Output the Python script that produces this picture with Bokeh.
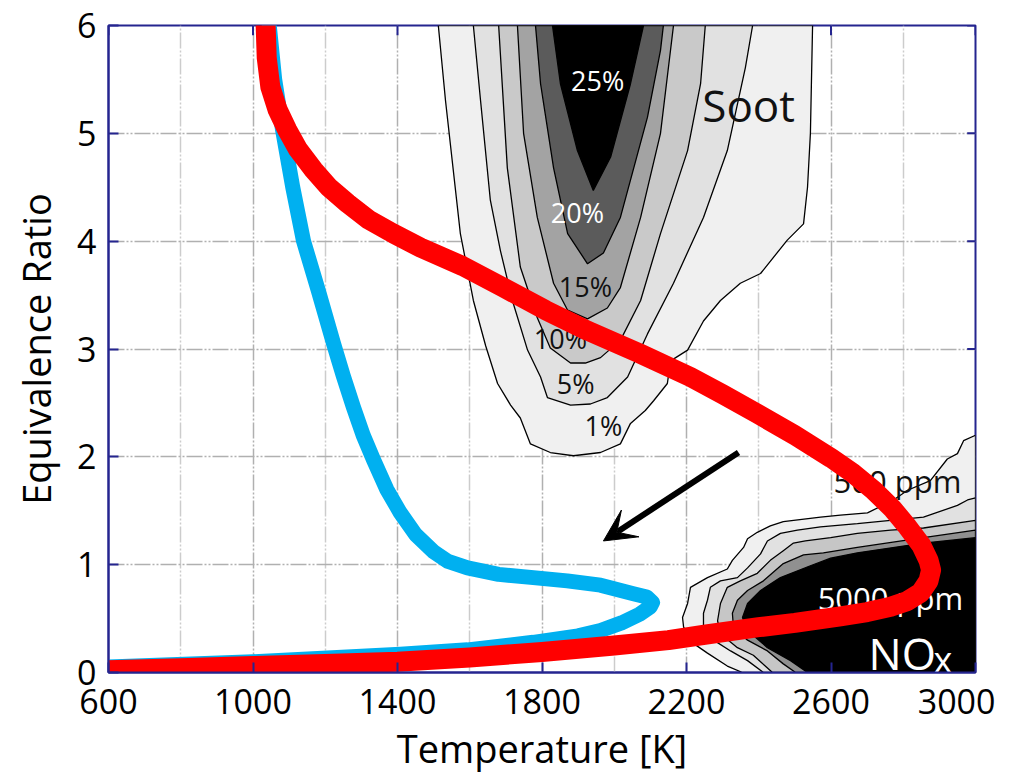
from bokeh.plotting import figure
from bokeh.models import FixedTicker, Range1d, Arrow, VeeHead
from bokeh.core.properties import value
from bokeh.embed import file_html
from bokeh.resources import INLINE

FONT = "Open Sans"
NAVY = "#25258f"

# ---------------- data ----------------
x_ticks = [600, 1000, 1400, 1800, 2200, 2600, 3000]
x_minor = [800, 1200, 1600, 2000, 2400, 2800]
y_ticks = [0, 1, 2, 3, 4, 5, 6]

# red curve (temperature K, equivalence ratio)
red_T = [600, 800, 1000, 1200, 1400, 1600, 1800, 2000, 2150, 2250, 2400, 2500, 2626, 2700,
         2765, 2810, 2848, 2870, 2877, 2870, 2850, 2812, 2770, 2718, 2660, 2600, 2500, 2396,
         2300, 2211, 2070, 1926, 1810, 1693, 1580, 1464, 1389, 1320, 1262, 1210, 1168, 1125,
         1095, 1068, 1048, 1038, 1035]
red_phi = [0.02, 0.04, 0.06, 0.08, 0.10, 0.14, 0.19, 0.25, 0.30, 0.35, 0.42, 0.46, 0.52, 0.56,
           0.61, 0.66, 0.74, 0.85, 0.95, 1.04, 1.18, 1.35, 1.52, 1.69, 1.85, 1.99, 2.20, 2.40,
           2.58, 2.74, 2.96, 3.17, 3.36, 3.57, 3.77, 3.94, 4.07, 4.20, 4.35, 4.50, 4.66, 4.85,
           5.03, 5.22, 5.43, 5.70, 6.0]

# blue curve
blue_T = [600, 1000, 1408, 1594, 1776, 1900, 1962, 2020, 2070, 2100, 2106, 2090, 2053, 1962,
          1870, 1776, 1680, 1594, 1540, 1500, 1450, 1408, 1370, 1334, 1305, 1278, 1250, 1223,
          1180, 1140, 1110, 1082, 1060, 1045]
blue_phi = [0.05, 0.10, 0.17, 0.21, 0.28, 0.34, 0.39, 0.46, 0.54, 0.61, 0.65, 0.70, 0.73, 0.81,
            0.85, 0.88, 0.91, 0.97, 1.03, 1.12, 1.28, 1.48, 1.70, 1.97, 2.20, 2.46, 2.75, 3.05,
            3.55, 4.00, 4.50, 5.03, 5.50, 6.00]

# soot contours (1%, 5%, 10%, 15%, 20%, 25%)
soot1_T = [1513, 1533, 1574, 1610, 1644, 1677, 1713, 1740, 1768, 1823, 1887, 1962, 2017, 2045,
           2086, 2109, 2147, 2156, 2203, 2247, 2294, 2349, 2405, 2479, 2524, 2535, 2543, 2549]
soot1_phi = [6.0, 5.30, 4.07, 3.45, 3.03, 2.68, 2.48, 2.36, 2.12, 2.04, 2.01, 2.04, 2.12, 2.31,
             2.43, 2.52, 2.68, 2.89, 2.99, 3.26, 3.45, 3.61, 3.70, 4.01, 4.16, 4.50, 5.00, 6.0]
soot5_T = [1610, 1630, 1657, 1685, 1718, 1760, 1796, 1815, 1879, 1934, 1981, 2037, 2092, 2164,
           2247, 2313, 2363, 2383]
soot5_phi = [6.0, 5.30, 4.38, 3.91, 3.45, 2.99, 2.74, 2.55, 2.48, 2.49, 2.55, 2.74, 3.14, 3.61,
             4.22, 4.84, 5.61, 6.0]
soot10_T = [1680, 1704, 1740, 1787, 1823, 1879, 1920, 1962, 2017, 2073, 2128, 2203, 2239, 2252]
soot10_phi = [6.0, 4.68, 3.76, 3.29, 3.01, 2.87, 2.87, 2.92, 3.08, 3.45, 4.07, 4.84, 5.46, 6.0]
soot15_T = [1732, 1749, 1787, 1832, 1871, 1926, 1981, 2017, 2073, 2128, 2164]
soot15_phi = [6.0, 5.0, 4.22, 3.61, 3.36, 3.28, 3.38, 3.57, 4.22, 5.0, 6.0]
soot20_T = [1782, 1796, 1832, 1871, 1926, 1970, 2017, 2092, 2128, 2136]
soot20_phi = [6.0, 5.46, 4.68, 4.07, 3.79, 3.89, 4.22, 5.15, 5.77, 6.0]
soot25_T = [1829, 1851, 1898, 1942, 1990, 2045, 2081]
soot25_phi = [6.0, 5.46, 4.84, 4.47, 4.78, 5.46, 6.0]

# NOx contours (outer to inner)
nox1_T = [3000, 2967, 2950, 2922, 2875, 2812, 2773, 2701, 2626, 2571, 2468, 2432, 2396, 2369,
          2358, 2327, 2313, 2258, 2211, 2203, 2189, 2192, 2219, 2258, 2313, 2355, 3000]
nox1_phi = [2.20, 2.15, 2.03, 1.98, 1.78, 1.69, 1.60, 1.48, 1.46, 1.44, 1.40, 1.36, 1.30, 1.24,
            1.16, 1.04, 0.96, 0.88, 0.79, 0.64, 0.51, 0.42, 0.27, 0.18, 0.06, 0.0, 0.0]
nox2_T = [3000, 2978, 2950, 2856, 2765, 2673, 2571, 2507, 2460, 2424, 2405, 2369, 2341, 2294,
          2266, 2258, 2247, 2247, 2275, 2322, 2369, 2413, 3000]
nox2_phi = [1.62, 1.60, 1.55, 1.44, 1.41, 1.38, 1.35, 1.32, 1.29, 1.22, 1.10, 0.97, 0.88, 0.85,
            0.79, 0.67, 0.55, 0.42, 0.30, 0.20, 0.11, 0.0, 0.0]
nox3_T = [3000, 2856, 2765, 2673, 2599, 2529, 2496, 2468, 2432, 2396, 2349, 2313, 2294, 2286,
          2294, 2341, 2385, 2438, 3000]
nox3_phi = [1.41, 1.34, 1.32, 1.29, 1.25, 1.22, 1.20, 1.13, 1.04, 0.92, 0.85, 0.79, 0.64, 0.48,
            0.36, 0.23, 0.16, 0.0, 0.0]
nox4_T = [3000, 2856, 2673, 2579, 2524, 2468, 2413, 2369, 2341, 2327, 2330, 2369, 2424, 2468,
          2502, 3000]
nox4_phi = [1.32, 1.25, 1.16, 1.11, 1.09, 1.01, 0.85, 0.76, 0.67, 0.55, 0.42, 0.30, 0.20, 0.08,
            0.0, 0.0]
nox5_T = [3000, 2856, 2673, 2599, 2543, 2460, 2405, 2369, 2355, 2369, 2424, 2488, 2535, 3000]
nox5_phi = [1.25, 1.20, 1.11, 1.06, 0.99, 0.88, 0.76, 0.64, 0.51, 0.39, 0.23, 0.11, 0.0, 0.0]

# labels
soot_label_T = [1954, 1898, 1920, 1851, 1893, 1970]
soot_label_phi = [5.49, 4.27, 3.58, 3.10, 2.68, 2.29]
soot_label_text = ["25%", "20%", "15%", "10%", "5%", "1%"]
arrow_start = (2344, 2.04)
arrow_end = (1970, 1.22)

# ---------------- figure ----------------
X0, X1, Y0, Y1 = 600, 3000, 0, 6
p = figure(frame_width=867, frame_height=647, output_backend="svg", toolbar_location=None,
           x_range=Range1d(X0, X1), y_range=Range1d(Y0, Y1),
           min_border_left=108, min_border_right=20, min_border_top=25, min_border_bottom=100)
p.background_fill_color = "white"
p.border_fill_color = "white"
p.outline_line_color = NAVY
p.outline_line_width = 2

xt = FixedTicker(ticks=x_ticks, minor_ticks=x_minor)
yt = FixedTicker(ticks=y_ticks)
p.xaxis.ticker = xt
p.yaxis.ticker = yt
p.xgrid.ticker = xt
p.ygrid.ticker = yt

for g in (p.xgrid, p.ygrid):
    g.grid_line_color = "#b0b0b0"
    g.grid_line_width = 1.5
    g.grid_line_dash = "16 2 2 2 2 2"
p.xgrid.minor_grid_line_color = "#cccccc"
p.xgrid.minor_grid_line_width = 1.5
p.xgrid.minor_grid_line_dash = "16 2 2 2 2 2"

for ax in (p.xaxis[0], p.yaxis[0]):
    ax.axis_line_color = NAVY
    ax.axis_line_width = 2
    ax.major_tick_line_color = NAVY
    ax.major_tick_line_width = 2
    ax.major_tick_in = 10
    ax.major_tick_out = 0
    ax.minor_tick_line_color = None
    ax.major_label_text_font = FONT
    ax.major_label_text_font_size = "34px"
    ax.major_label_text_color = "black"
    ax.axis_label_text_font = FONT
    ax.axis_label_text_font_size = "38px"
    ax.axis_label_text_font_style = "normal"
    ax.axis_label_text_color = "black"
p.xaxis.axis_label = "Temperature [K]"
p.yaxis.axis_label = "Equivalence Ratio"
p.xaxis.major_label_standoff = 12
p.xaxis.axis_label_standoff = 5
p.yaxis.major_label_standoff = 12
p.yaxis.axis_label_standoff = 12

# inward ticks on the top and right edges
tick_len_phi = 0.09
tick_len_T = 23
p.segment(x0=x_ticks, y0=[Y1] * len(x_ticks), x1=x_ticks, y1=[Y1 - tick_len_phi] * len(x_ticks),
          line_color=NAVY, line_width=2)
p.segment(x0=[X1] * len(y_ticks), y0=y_ticks, x1=[X1 - tick_len_T] * len(y_ticks), y1=y_ticks,
          line_color=NAVY, line_width=2)

# soot contours
soot_fill = ["#f0f0f0", "#e1e1e1", "#c9c9c9", "#a3a3a3", "#5b5b5b", "#000000"]
soot_T = [soot1_T, soot5_T, soot10_T, soot15_T, soot20_T, soot25_T]
soot_phi = [soot1_phi, soot5_phi, soot10_phi, soot15_phi, soot20_phi, soot25_phi]
for xs, ys, c in zip(soot_T, soot_phi, soot_fill):
    p.patch(xs, ys, fill_color=c, line_color="black", line_width=1.3)

# NOx contours
nox_fill = ["#f0f0f0", "#e1e1e1", "#c6c6c6", "#909090", "#000000"]
nox_T = [nox1_T, nox2_T, nox3_T, nox4_T, nox5_T]
nox_phi = [nox1_phi, nox2_phi, nox3_phi, nox4_phi, nox5_phi]
for xs, ys, c in zip(nox_T, nox_phi, nox_fill):
    p.patch(xs, ys, fill_color=c, line_color="black", line_width=1.3)

# labels behind the curves
p.text(soot_label_T[:2], soot_label_phi[:2], text=soot_label_text[:2], text_color="white",
       text_font=value(FONT), text_font_size="27px", text_align="center",
       text_baseline="middle")
p.text(soot_label_T[2:], soot_label_phi[2:], text=soot_label_text[2:], text_color="#111111",
       text_font=value(FONT), text_font_size="27px", text_align="center",
       text_baseline="middle")
p.text([2372], [5.26], text=["Soot"], text_color="#111111", text_font=value(FONT),
       text_font_size="44px", text_align="center", text_baseline="middle")
p.text([2607], [1.78], text=["500 ppm"], text_color="#111111", text_font=value(FONT),
       text_font_size="31px", text_align="left", text_baseline="middle")
p.text([2563], [0.69], text=["5000 ppm"], text_color="white", text_font=value(FONT),
       text_font_size="31px", text_align="left", text_baseline="middle")
p.text([2704], [0.185], text=["NO"], text_color="white", text_font=value(FONT),
       text_font_size="44px", text_align="left", text_baseline="alphabetic")
p.text([2884], [0.12], text=["x"], text_color="white", text_font=value(FONT),
       text_font_size="36px", text_align="left", text_baseline="alphabetic")

# curves
p.line(blue_T, blue_phi, line_color="#00b0f0", line_width=15, line_join="round", line_cap="round")
p.line(red_T, red_phi, line_color="#ff0000", line_width=20, line_join="round", line_cap="round")

# arrow
p.add_layout(Arrow(end=VeeHead(size=32, fill_color="black", line_color="black"),
                   x_start=arrow_start[0], y_start=arrow_start[1],
                   x_end=arrow_end[0], y_end=arrow_end[1],
                   line_color="black", line_width=6))

open("out.html", "w").write(file_html(p, INLINE))
